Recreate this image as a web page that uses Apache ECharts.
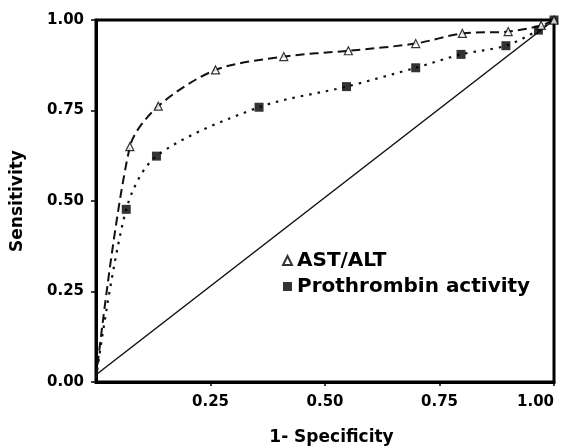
<!DOCTYPE html>
<html>
<head>
<meta charset="utf-8">
<script src="https://cdn.jsdelivr.net/npm/echarts@6/dist/echarts.min.js"></script>
<style>
html,body{margin:0;padding:0;background:#fff;}
#chart{width:563px;height:447px;}
</style>
</head>
<body>
<div id="chart"></div>
<script>
// ROC data
var astX = [0, 0.074, 0.136, 0.261, 0.410, 0.551, 0.698, 0.800, 0.900, 0.972, 1];
var astY = [0.01, 0.65, 0.762, 0.862, 0.899, 0.915, 0.935, 0.963, 0.968, 0.985, 1];
var proX = [0, 0.066, 0.132, 0.356, 0.547, 0.698, 0.797, 0.895, 0.966, 1];
var proY = [0.01, 0.477, 0.624, 0.759, 0.816, 0.868, 0.905, 0.929, 0.972, 1];
var refX = [0, 1];
var refY = [0.02, 1];
var tickValues = [0, 0.25, 0.5, 0.75, 1];
var seriesNames = ['AST/ALT', 'Prothrombin activity'];
var axisNames = ['1- Specificity', 'Sensitivity'];

function pairs(xs, ys) { return xs.map(function (x, i) { return [x, ys[i]]; }); }

var FONT = 'DejaVu Sans';
var chart = echarts.init(document.getElementById('chart'), null, {renderer: 'canvas'});
var labelFmt = function (v) { return tickValues.indexOf(v) >= 0 ? v.toFixed(2) : ''; };

chart.setOption({
  animation: false,
  backgroundColor: '#fff',
  grid: {left: 96, right: 9, top: 20, bottom: 65, outerBoundsMode: 'none', containLabel: false,
         show: true, borderColor: '#000', borderWidth: 3, backgroundColor: 'transparent'},
  xAxis: {
    type: 'value', min: 0, max: 1, interval: 0.25,
    name: axisNames[0], nameLocation: 'middle', nameGap: 47,
    nameTextStyle: {fontFamily: FONT, fontWeight: 'bold', fontSize: 17, color: '#000', padding: [0, 0, 0, 13]},
    axisLine: {show: true, lineStyle: {color: '#000', width: 3}},
    axisTick: {show: true, length: 4, lineStyle: {color: '#000', width: 1.5}},
    splitLine: {show: false},
    axisLabel: {
      fontFamily: FONT, fontWeight: 'bold', fontSize: 15, color: '#000', margin: 13,
      showMinLabel: false, alignMaxLabel: 'right',
      formatter: labelFmt
    }
  },
  yAxis: {
    type: 'value', min: 0, max: 1, interval: 0.25,
    name: axisNames[1], nameLocation: 'middle', nameGap: 70, nameRotate: 90,
    nameTextStyle: {fontFamily: FONT, fontWeight: 'bold', fontSize: 17, color: '#000'},
    axisLine: {show: true, lineStyle: {color: '#000', width: 3}},
    axisTick: {show: true, length: 5, lineStyle: {color: '#000', width: 1.5}},
    splitLine: {show: false},
    axisLabel: {fontFamily: FONT, fontWeight: 'bold', fontSize: 15, color: '#000', margin: 12, formatter: labelFmt}
  },
  legend: {
    orient: 'vertical', left: 277, top: 244,
    data: seriesNames,
    itemWidth: 9, itemHeight: 9, itemGap: 3,
    textStyle: {fontFamily: FONT, fontWeight: 'bold', fontSize: 20, color: '#000', lineHeight: 23},
    selectedMode: false
  },
  series: [
    {
      name: 'ref', type: 'line', data: pairs(refX, refY), showSymbol: false, silent: true,
      lineStyle: {color: '#111', width: 1.5, type: 'solid'}, z: 1
    },
    {
      name: 'astCurve', type: 'line', data: pairs(astX, astY), showSymbol: false, silent: true,
      smooth: 0.3,
      lineStyle: {color: '#111', width: 2, type: [9, 5]}, z: 2
    },
    {
      name: 'proCurve', type: 'line', data: pairs(proX, proY), showSymbol: false, silent: true,
      smooth: 0.3,
      lineStyle: {color: '#111', width: 2.2, type: [2.5, 6]}, z: 2
    },
    {
      name: seriesNames[0], type: 'scatter', data: pairs(astX, astY).slice(1),
      symbol: 'triangle', symbolSize: 8,
      itemStyle: {color: '#fff', borderColor: '#000', borderWidth: 1.2}, z: 5
    },
    {
      name: seriesNames[1], type: 'scatter', data: pairs(proX, proY).slice(1),
      symbol: 'rect', symbolSize: 9,
      itemStyle: {color: '#000', borderColor: '#000', borderWidth: 0}, z: 4
    }
  ]
});
</script>
</body>
</html>
